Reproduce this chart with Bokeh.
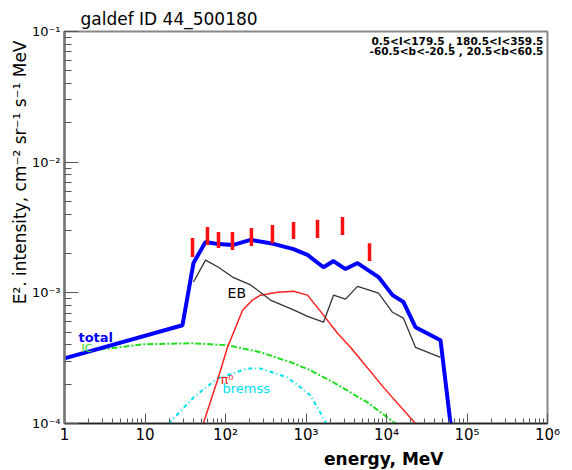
from bokeh.plotting import figure
from bokeh.models import Range1d, Label, LogTicker, Title
from bokeh.embed import file_html
from bokeh.resources import INLINE

# ---- data ----
total_E = [1, 29.2, 40, 56.5, 81.8, 122, 205, 362, 700, 1044, 1649, 2197, 3098, 4363, 7960, 11880, 16250, 22900, 46900, 62400]
total_I = [3.15e-4, 5.65e-4, 1.69e-3, 2.45e-3, 2.36e-3, 2.32e-3, 2.54e-3, 2.40e-3, 2.16e-3, 1.95e-3, 1.57e-3, 1.75e-3, 1.52e-3, 1.69e-3, 1.32e-3, 9.6e-4, 8.5e-4, 5.46e-4, 4.34e-4, 1.0e-4]

eb_E = [40, 56.5, 81.8, 122, 205, 362, 700, 1044, 1649, 2197, 3098, 4363, 7960, 11880, 16250, 22900, 46900]
eb_I = [1.21e-3, 1.78e-3, 1.57e-3, 1.32e-3, 1.15e-3, 8.8e-4, 7.4e-4, 6.6e-4, 5.96e-4, 9.6e-4, 8.95e-4, 1.12e-3, 9.95e-4, 7.1e-4, 6.4e-4, 3.83e-4, 3.21e-4]

pi0_E = [53, 79.5, 106, 163, 216, 272, 443, 700, 1044, 1649, 2462, 3573, 9180, 22900]
pi0_I = [1.0e-4, 2.14e-4, 3.83e-4, 7.36e-4, 8.8e-4, 9.6e-4, 1.01e-3, 1.03e-3, 9.6e-4, 6.75e-4, 4.91e-4, 3.83e-4, 1.89e-4, 1.0e-4]

ic_E = [1, 2.29, 9.58, 40, 106, 272, 700, 1137, 2197, 5800, 12940]
ic_I = [3.21e-4, 3.63e-4, 4.04e-4, 4.11e-4, 3.97e-4, 3.51e-4, 2.89e-4, 2.55e-4, 2.06e-4, 1.45e-4, 1.0e-4]

brem_E = [19.6, 40, 79.5, 188, 272, 589, 855, 1137, 1797]
brem_I = [1.0e-4, 1.58e-4, 2.21e-4, 2.64e-4, 2.64e-4, 2.25e-4, 1.89e-4, 1.64e-4, 1.0e-4]

data_E = [38.9, 59.7, 81.8, 122, 210, 383, 700, 1390, 2840, 6150]
data_lo = [1.88e-3, 2.32e-3, 2.20e-3, 2.13e-3, 2.28e-3, 2.40e-3, 2.58e-3, 2.63e-3, 2.77e-3, 1.75e-3]
data_hi = [2.63e-3, 3.19e-3, 2.92e-3, 2.92e-3, 3.14e-3, 3.31e-3, 3.49e-3, 3.62e-3, 3.81e-3, 2.40e-3]

x_ticks = [1, 10, 100, 1000, 10000, 100000, 1000000]
x_tick_labels = ["1", "10", "10²", "10³", "10⁴", "10⁵", "10⁶"]
y_ticks = [1e-4, 1e-3, 1e-2, 1e-1]
y_tick_labels = ["10⁻⁴", "10⁻³", "10⁻²", "10⁻¹"]

title_text = "galdef ID 44_500180"
x_label = "energy, MeV"
y_label = "E². intensity, cm⁻² sr⁻¹ s⁻¹ MeV"
region_lines = ["0.5<l<179.5 , 180.5<l<359.5", "-60.5<b<-20.5 , 20.5<b<60.5"]

FONT = "DejaVu Sans"

p = figure(width=566, height=470, x_axis_type="log", y_axis_type="log",
           x_range=Range1d(1, 1e6), y_range=Range1d(1e-4, 1e-1),
           output_backend="svg", toolbar_location=None, title=None,
           min_border_left=64, min_border_right=19, min_border_top=31, min_border_bottom=47)

p.xgrid.visible = False
p.ygrid.visible = False
p.outline_line_color = "#888888"
p.outline_line_width = 2
p.background_fill_color = "white"
p.border_fill_color = "white"

p.xaxis.ticker = LogTicker(num_minor_ticks=10)
p.yaxis.ticker = LogTicker(num_minor_ticks=10)
p.xaxis.major_label_overrides = {t: l for t, l in zip(x_ticks, x_tick_labels)}
p.yaxis.major_label_overrides = {t: l for t, l in zip(y_ticks, y_tick_labels)}
for ax in (p.xaxis, p.yaxis):
    ax.major_tick_out = 0
    ax.minor_tick_out = 0
    ax.major_label_text_font = FONT
    ax.major_label_text_color = "black"
    ax.major_tick_line_color = "#555555"
    ax.minor_tick_line_color = "#555555"
p.xaxis.major_label_text_font_size = "15px"
p.yaxis.major_label_text_font_size = "13px"
p.xaxis.major_tick_in = 10
p.xaxis.minor_tick_in = 5
p.yaxis.major_tick_in = 14
p.yaxis.minor_tick_in = 7
p.xaxis.axis_line_color = "#222222"
p.xaxis.axis_line_width = 1.5
p.yaxis.axis_line_color = "#777777"
p.yaxis.axis_line_width = 2.5
p.xaxis.major_label_standoff = 2
p.yaxis.major_label_standoff = 4

# titles / axis labels
p.add_layout(Title(text=title_text, align="left", offset=16, standoff=6, text_color="black",
                   text_font=FONT, text_font_size="17px", text_font_style="normal"), "above")
p.add_layout(Title(text=x_label, align="right", offset=104, standoff=0, text_color="black",
                   text_font=FONT, text_font_size="17px", text_font_style="bold"), "below")
p.add_layout(Title(text=y_label, align="right", offset=9, standoff=-3, text_color="black",
                   text_font=FONT, text_font_size="17px", text_font_style="normal"), "left")

# components
p.line(ic_E, ic_I, line_color="#22dd22", line_width=2, line_dash="6 2 2 2")
p.line(brem_E, brem_I, line_color="#00e0f0", line_width=2, line_dash="4 3 1 3")
p.line(pi0_E, pi0_I, line_color="#ff2020", line_width=1.5)
p.line(eb_E, eb_I, line_color="#333333", line_width=1.3)
p.line(total_E, total_I, line_color="#0000ff", line_width=4)
p.segment(x0=data_E, y0=data_lo, x1=data_E, y1=data_hi, line_color="#ff1010", line_width=3.5)

# labels inside the frame
p.add_layout(Label(x=106, y=1.0e-3, text="EB", text_font=FONT, text_font_size="14px",
                   text_color="black", text_baseline="middle"))
p.add_layout(Label(x=1.49, y=4.57e-4, text="total", text_font=FONT, text_font_size="13px",
                   text_font_style="bold", text_color="#0000ff", text_baseline="middle"))
p.add_layout(Label(x=1.63, y=3.77e-4, text="IC", text_font=FONT, text_font_size="11px",
                   text_color="#22dd22", text_baseline="middle"))
p.add_layout(Label(x=86.7, y=2.18e-4, text="π⁰", text_font=FONT, text_font_size="13px",
                   text_color="#ff2020", text_baseline="middle"))
p.add_layout(Label(x=91.8, y=1.86e-4, text="bremss", text_font=FONT, text_font_size="13px",
                   text_color="#00e0f0", text_baseline="middle"))
for yv, line in zip([0.084, 0.0703], region_lines):
    p.add_layout(Label(x=8.9e5, y=yv, text=line, text_font=FONT,
                       text_font_size="10.5px", text_font_style="bold", text_align="right",
                       text_baseline="middle", text_color="black"))

open("out.html", "w").write(file_html(p, INLINE))
